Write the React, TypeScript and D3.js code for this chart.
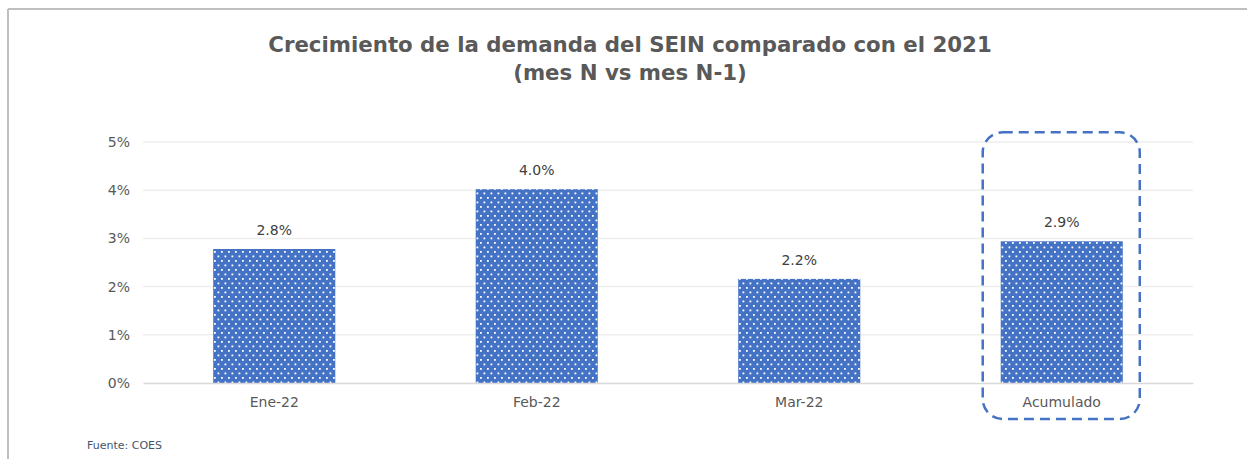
import React, { useEffect, useRef } from 'react';
import { select, scaleBand, scaleLinear, axisLeft, axisBottom } from 'd3';

const categories = ['Ene-22', 'Feb-22', 'Mar-22', 'Acumulado'];
const growth = [2.78, 4.02, 2.16, 2.94];
const yTicks = [0, 1, 2, 3, 4, 5];
const titleLines = ['Crecimiento de la demanda del SEIN comparado con el 2021', '(mes N vs mes N-1)'];
const source = 'Fuente: COES';

const W = 1247;
const H = 459;
const margin = { top: 142, right: 54, bottom: 76, left: 143 };
const font = "'DejaVu Sans', Verdana, sans-serif";
const blue = '#4472c4';

export default function App() {
  const ref = useRef<SVGSVGElement | null>(null);

  useEffect(() => {
    const svg = select(ref.current);
    svg.selectAll('*').remove();

    const innerW = W - margin.left - margin.right;
    const innerH = H - margin.top - margin.bottom;

    // dotted fill like the excel pattern
    const defs = svg.append('defs');
    const pat = defs
      .append('pattern')
      .attr('id', 'dots')
      .attr('patternUnits', 'userSpaceOnUse')
      .attr('width', 7)
      .attr('height', 9);
    pat.append('rect').attr('width', 7).attr('height', 9).attr('fill', blue);
    pat.append('rect').attr('x', 1).attr('y', 1).attr('width', 1.8).attr('height', 1.8).attr('fill', '#fff');
    pat.append('rect').attr('x', 4.5).attr('y', 5.5).attr('width', 1.8).attr('height', 1.8).attr('fill', '#fff');

    // frame (only top and left are visible)
    svg.append('line').attr('x1', 8).attr('x2', W).attr('y1', 9).attr('y2', 9).attr('stroke', '#bfbfbf').attr('stroke-width', 2);
    svg.append('line').attr('x1', 8).attr('x2', 8).attr('y1', 9).attr('y2', H).attr('stroke', '#bfbfbf').attr('stroke-width', 2);

    const title = svg
      .append('text')
      .attr('x', 630)
      .attr('y', 52)
      .attr('text-anchor', 'middle')
      .style('font-family', font)
      .style('font-size', '21.3px')
      .style('font-weight', 'bold')
      .attr('fill', '#595959');
    titleLines.forEach((t, i) => {
      title.append('tspan').attr('x', 630).attr('dy', i === 0 ? 0 : 28).text(t);
    });

    const x = scaleBand().domain(categories).range([0, innerW]).paddingInner(0.535).paddingOuter(0.2675);
    const y = scaleLinear().domain([0, 5]).range([innerH, 0]);

    const g = svg.append('g').attr('transform', `translate(${margin.left},${margin.top})`);

    // gridlines
    g.selectAll('line.grid')
      .data(yTicks.slice(1))
      .enter()
      .append('line')
      .attr('class', 'grid')
      .attr('x1', 0)
      .attr('x2', innerW)
      .attr('y1', d => y(d))
      .attr('y2', d => y(d))
      .attr('stroke', '#eeeeee')
      .attr('stroke-width', 1.5);

    const yAxis = g.append('g').call(
      axisLeft(y)
        .tickValues(yTicks)
        .tickFormat(d => `${d}%`)
        .tickSize(0)
        .tickPadding(13)
    );
    yAxis.select('.domain').remove();
    yAxis.selectAll('text').style('font-family', font).style('font-size', '14px').attr('fill', '#595959');

    g.selectAll('rect.bar')
      .data(growth)
      .enter()
      .append('rect')
      .attr('class', 'bar')
      .attr('x', (d, i) => x(categories[i]) as number)
      .attr('width', x.bandwidth())
      .attr('y', d => y(d))
      .attr('height', d => innerH - y(d))
      .attr('fill', 'url(#dots)');

    g.selectAll('text.val')
      .data(growth)
      .enter()
      .append('text')
      .attr('class', 'val')
      .attr('x', (d, i) => (x(categories[i]) as number) + x.bandwidth() / 2)
      .attr('y', d => y(d) - 14)
      .attr('text-anchor', 'middle')
      .style('font-family', font)
      .style('font-size', '14px')
      .attr('fill', '#404040')
      .text(d => `${d.toFixed(1)}%`);

    const xAxis = g
      .append('g')
      .attr('transform', `translate(0,${innerH})`)
      .call(axisBottom(x).tickSize(0).tickPadding(14));
    xAxis.select('.domain').attr('stroke', '#d9d9d9').attr('stroke-width', 1.5);
    xAxis.selectAll('text').style('font-family', font).style('font-size', '14px').attr('fill', '#595959');

    // highlight box around the accumulated bar
    const acc = x('Acumulado') as number;
    g.append('rect')
      .attr('x', acc - 18)
      .attr('y', y(5.2))
      .attr('width', x.bandwidth() + 35)
      .attr('height', innerH - y(5.2) + 36)
      .attr('rx', 20)
      .attr('fill', 'none')
      .attr('stroke', blue)
      .attr('stroke-width', 2.5)
      .attr('stroke-dasharray', '10 6');

    svg
      .append('text')
      .attr('x', 87)
      .attr('y', 449)
      .style('font-family', font)
      .style('font-size', '11px')
      .attr('fill', '#44546a')
      .text(source);
  }, []);

  return (
    <div style={{ position: 'absolute', left: 0, top: 0 }}>
      <svg ref={ref} width={W} height={H} style={{ display: 'block', background: '#fff' }} />
    </div>
  );
}
